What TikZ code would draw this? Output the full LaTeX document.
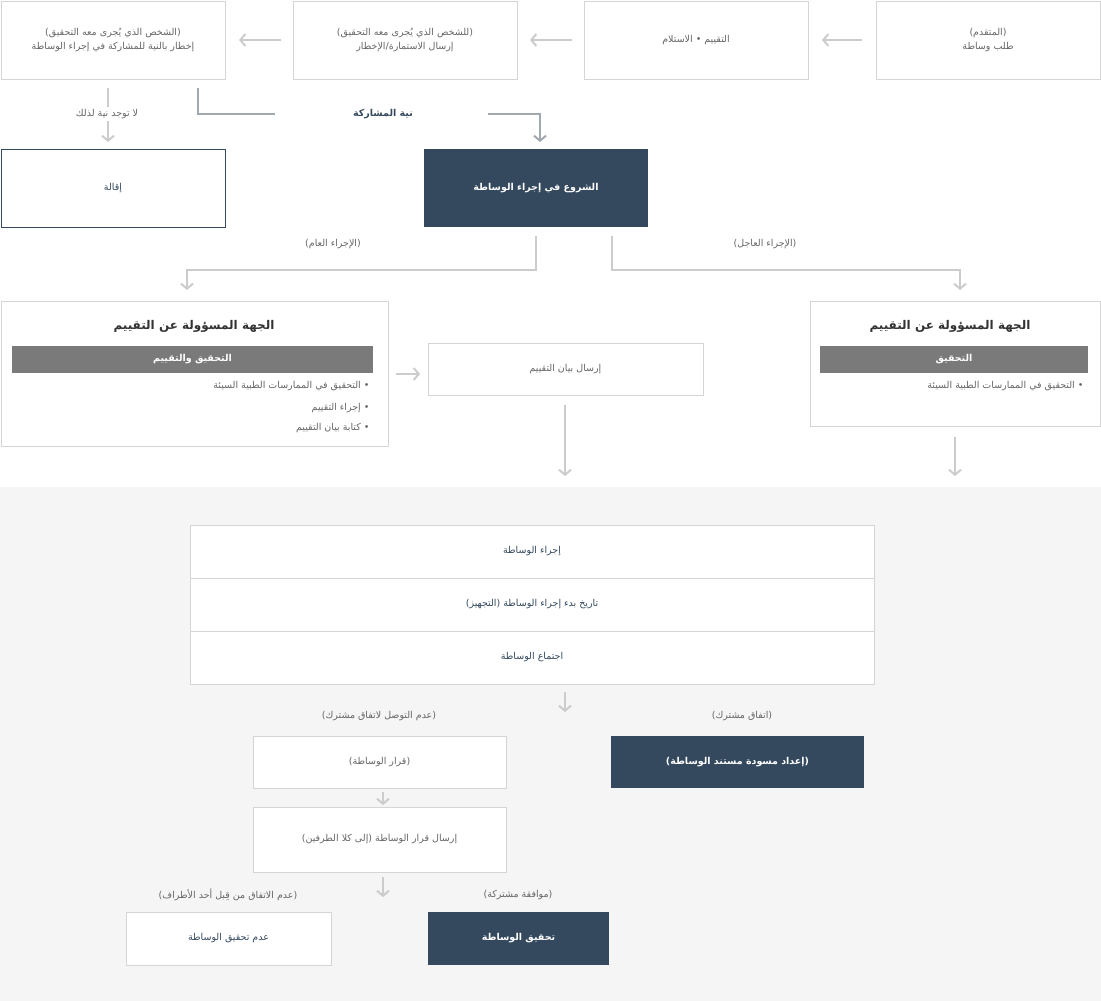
\documentclass[tikz,border=0pt]{standalone}
\usepackage{fontspec}
\setmainfont[Script=Arabic]{DejaVu Sans}
\usetikzlibrary{arrows.meta}
\TeXXeTstate=1
\newcommand\AR[1]{\beginR #1\endR}
\definecolor{navy}{HTML}{34495E}
\definecolor{lg}{HTML}{CCCCCC}
\definecolor{bd}{HTML}{D5D5D5}
\definecolor{tx}{HTML}{666666}
\definecolor{dg}{HTML}{A0A8B0}
\begin{document}
\begin{tikzpicture}[x=1pt,y=-1pt,
  box/.style={draw=bd,fill=white,line width=0.8pt,font=\fontsize{9.5}{14}\selectfont,text=tx,align=center},
  dark/.style={fill=navy,text=white,font=\bfseries\fontsize{9.5}{14}\selectfont,align=center},
  lab/.style={text=tx,font=\fontsize{9.5}{12}\selectfont},
  arr/.style={draw=lg,line width=2pt,-{Straight Barb[length=5pt,width=12pt]}},
  darr/.style={draw=dg,line width=2pt,-{Straight Barb[length=5pt,width=12pt]}},
  bar/.style={fill=black!52,text=white,font=\bfseries\fontsize{9.5}{12}\selectfont}]
\useasboundingbox (0,0) rectangle (1101,1001);
\fill[black!4] (0,487) rectangle (1101,1001);
\newcommand\bx[6]{\node[#1,minimum width=#4-#2,minimum height=#5-#3] (#6) at ({(#2+#4)/2},{(#3+#5)/2}) {};}
% row 1
\node[box,minimum width=224,minimum height=78] (b1) at (988,40) {\AR{(المتقدم)}\\\AR{طلب وساطة}};
\node[box,minimum width=224,minimum height=78] (b2) at (696,40) {\AR{التقييم • الاستلام}};
\node[box,minimum width=224,minimum height=78] (b3) at (405,40) {\AR{(للشخص الذي يُجرى معه التحقيق)}\\\AR{إرسال الاستمارة/الإخطار}};
\node[box,minimum width=224,minimum height=78] (b4) at (113,40) {\AR{(الشخص الذي يُجرى معه التحقيق)}\\\AR{إخطار بالنية للمشاركة في إجراء الوساطة}};
\coordinate (a1s) at (862,40); \coordinate (a1e) at (822,40);
\coordinate (a2s) at (572,40); \coordinate (a2e) at (530,40);
\coordinate (a3s) at (281,40); \coordinate (a3e) at (239,40);
\draw[arr] (a1s) -- (a1e); \draw[arr] (a2s) -- (a2e); \draw[arr] (a3s) -- (a3e);
% intent
\node[draw=navy,fill=white,line width=0.8pt,minimum width=224,minimum height=78,text=navy,font=\fontsize{9.5}{12}\selectfont] (iq) at (113,188) {\AR{إقالة}};
\node[dark,minimum width=224,minimum height=78] (st) at (536,188) {\AR{الشروع في إجراء الوساطة}};
\coordinate (p1) at (198,88); \coordinate (p2) at (198,114); \coordinate (p3) at (275,114);
\coordinate (p4) at (488,114); \coordinate (p5) at (540,114); \coordinate (p6) at (540,142);
\draw[dg,line width=2pt] (p1) -- (p2) -- (p3);
\draw[darr] (p4) -- (p5) -- (p6);
\node[text=navy,font=\bfseries\fontsize{9.5}{12}\selectfont] (ni) at (383,114) {\AR{نية المشاركة}};
\coordinate (q1) at (108,88); \coordinate (q2) at (108,142);
\draw[arr] (q1) -- (q2);
\node[lab,fill=white,inner sep=2pt] (no) at (107,114) {\AR{لا توجد نية لذلك}};
% split
\coordinate (s1) at (536,236); \coordinate (s2) at (536,270); \coordinate (s3) at (187,270); \coordinate (s4) at (187,290);
\coordinate (r1) at (612,236); \coordinate (r2) at (612,270); \coordinate (r3) at (960,270); \coordinate (r4) at (960,290);
\draw[arr] (s1) -- (s2) -- (s3) -- (s4);
\draw[arr] (r1) -- (r2) -- (r3) -- (r4);
\node[lab] (lg1) at (333,244) {\AR{(الإجراء العام)}};
\node[lab] (lg2) at (765,244) {\AR{(الإجراء العاجل)}};
% left eval box
\node[box,minimum width=387,minimum height=145] (lb) at (194.5,373.5) {};
\node[text=black!80,font=\bfseries\fontsize{12}{14}\selectfont] (lt) at (194,326) {\AR{الجهة المسؤولة عن التقييم}};
\node[bar,minimum width=361,minimum height=27] (lbar) at (192.5,359.5) {\AR{التحقيق والتقييم}};
\node[lab,anchor=east] (l1) at (373,386) {\AR{• التحقيق في الممارسات الطبية السيئة}};
\node[lab,anchor=east] (l2) at (373,408) {\AR{• إجراء التقييم}};
\node[lab,anchor=east] (l3) at (373,428) {\AR{• كتابة بيان التقييم}};
\coordinate (m1) at (396,374); \coordinate (m2) at (420,374);
\draw[arr] (m1) -- (m2);
\node[box,minimum width=275,minimum height=52] (mb) at (565.5,369) {\AR{إرسال بيان التقييم}};
\coordinate (m3) at (565,405); \coordinate (m4) at (565,476);
\draw[arr] (m3) -- (m4);
% right eval box
\node[box,minimum width=290,minimum height=125] (rb) at (955,363.5) {};
\node[text=black!80,font=\bfseries\fontsize{12}{14}\selectfont] (rt) at (950,326) {\AR{الجهة المسؤولة عن التقييم}};
\node[bar,minimum width=268,minimum height=27] (rbar) at (954,359.5) {\AR{التحقيق}};
\node[lab,anchor=east] (r1t) at (1087,386) {\AR{• التحقيق في الممارسات الطبية السيئة}};
\coordinate (n1) at (955,437); \coordinate (n2) at (955,476);
\draw[arr] (n1) -- (n2);
% table
\node[box,text=navy,minimum width=684,minimum height=53] (t1) at (532,551.5) {\AR{إجراء الوساطة}};
\node[box,text=navy,minimum width=684,minimum height=53] (t2) at (532,604.5) {\AR{تاريخ بدء إجراء الوساطة (التجهيز)}};
\node[box,text=navy,minimum width=684,minimum height=53] (t3) at (532,657.5) {\AR{اجتماع الوساطة}};
\coordinate (u1) at (565,692); \coordinate (u2) at (565,712);
\draw[arr] (u1) -- (u2);
\node[lab] (ln1) at (379,716) {\AR{(عدم التوصل لاتفاق مشترك)}};
\node[lab] (ln2) at (742,716) {\AR{(اتفاق مشترك)}};
\node[box,minimum width=253,minimum height=52] (qd) at (379.5,762) {\AR{(قرار الوساطة)}};
\node[dark,minimum width=253,minimum height=52] (dr) at (737.5,762) {\AR{(إعداد مسودة مستند الوساطة)}};
\coordinate (v1) at (383,792); \coordinate (v2) at (383,805);
\draw[arr] (v1) -- (v2);
\node[box,minimum width=253,minimum height=65] (sd) at (379.5,839.5) {\AR{إرسال قرار الوساطة (إلى كلا الطرفين)}};
\coordinate (w1) at (383,877); \coordinate (w2) at (383,897);
\draw[arr] (w1) -- (w2);
\node[lab] (ln3) at (228,895) {\AR{(عدم الاتفاق من قِبل أحد الأطراف)}};
\node[lab] (ln4) at (518,895) {\AR{(موافقة مشتركة)}};
\node[box,text=navy,minimum width=205,minimum height=53] (nf) at (228.5,938.5) {\AR{عدم تحقيق الوساطة}};
\node[dark,minimum width=181,minimum height=53] (ok) at (518.5,938.5) {\AR{تحقيق الوساطة}};
\end{tikzpicture}
\end{document}
